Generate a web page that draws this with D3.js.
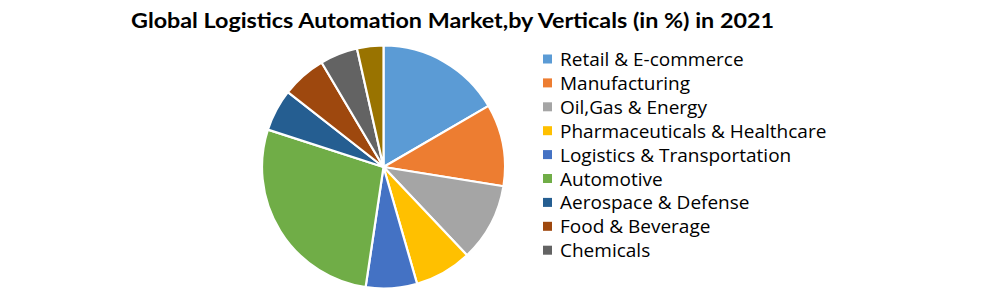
<!DOCTYPE html>
<html><head><meta charset="utf-8">
<script src="https://cdn.jsdelivr.net/npm/d3@7"></script>
<style>body{margin:0;background:#fff;} svg{display:block;}</style>
</head><body>
<svg id="c" width="983" height="290"></svg>
<script>
const categories = ["Retail & E-commerce","Manufacturing","Oil,Gas & Energy","Pharmaceuticals & Healthcare","Logistics & Transportation","Automotive","Aerospace & Defense","Food & Beverage","Chemicals","Others"];
const values = [16.6, 10.9, 10.4, 7.6, 6.8, 27.6, 5.6, 5.9, 5.0, 3.5];
const colors = ["#5B9BD5","#ED7D31","#A5A5A5","#FFC000","#4472C4","#70AD47","#255E91","#9E480E","#636363","#997300"];
const legendCount = 9; // legend in the reference shows the first nine

const data = categories.map((c,i)=>({cat:c, v:values[i], col:colors[i]}));
const svg = d3.select("#c");

svg.append("text").attr("x",452.5).attr("y",28).attr("text-anchor","middle")
  .style("font-family","Lato, 'Liberation Sans', sans-serif").style("font-weight","bold")
  .style("font-size","21px").attr("fill","#000")
  .attr("textLength",643).attr("lengthAdjust","spacingAndGlyphs")
  .text("Global Logistics Automation Market,by Verticals (in %) in 2021");

const cx=383.5, cy=167, r=121.5;
const pie = d3.pie().value(d=>d.v).sort(null);
const arc = d3.arc().innerRadius(0).outerRadius(r);
const g = svg.append("g").attr("transform",`translate(${cx},${cy})`);
g.selectAll("path").data(pie(data)).join("path")
  .attr("d",arc).attr("fill",d=>d.data.col)
  .attr("stroke","#fff").attr("stroke-width",2.2).attr("stroke-linejoin","round");

const y = d3.scalePoint().domain(categories.slice(0,legendCount)).range([59, 59+23.9*8]);
const lg = svg.append("g");
const items = lg.selectAll("g").data(data.slice(0,legendCount)).join("g")
  .attr("transform",d=>`translate(0,${y(d.cat)})`);
items.append("rect").attr("x",543).attr("y",-4.5).attr("width",9).attr("height",9).attr("fill",d=>d.col);
items.append("text").attr("x",560).attr("y",7).
  style("font-family","'Open Sans', 'Noto Sans', sans-serif").style("font-size","19px").attr("fill","#000")
  .text(d=>d.cat);
</script>
</body></html>
